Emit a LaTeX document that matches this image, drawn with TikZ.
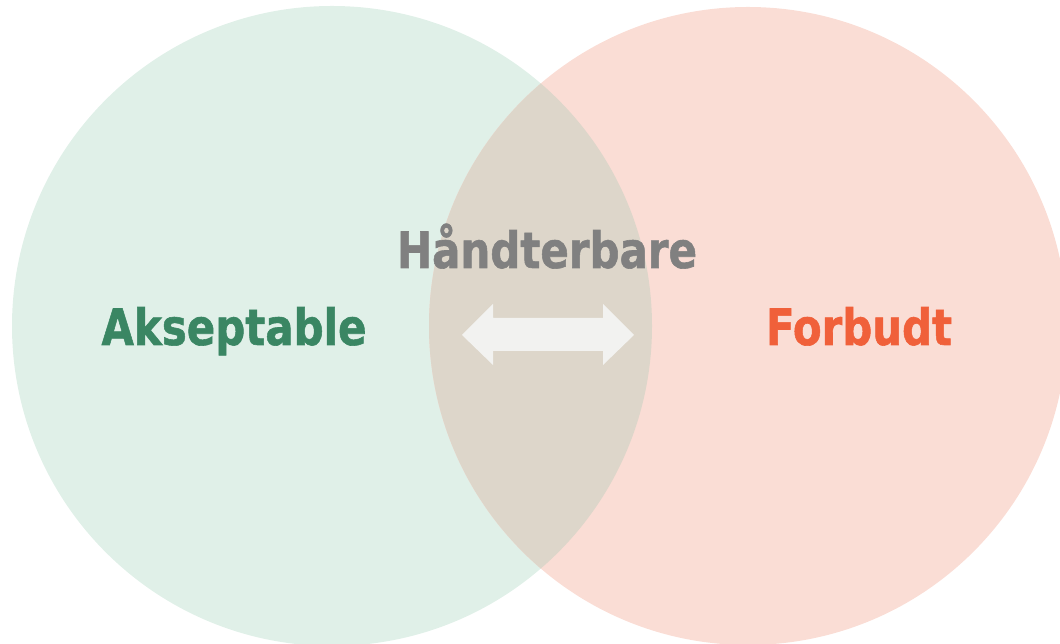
\documentclass[tikz,border=0pt]{standalone}
\usepackage{fontspec}
\usepackage{graphicx}
\setmainfont{DejaVu Sans}
\newfontfamily\heavyfont{DejaVu Sans Bold}[FakeBold=1.2]
\definecolor{leftc}{HTML}{E0F0E8}
\definecolor{rightc}{HTML}{FADDD5}
\definecolor{midc}{HTML}{DDD6CA}
\definecolor{greent}{HTML}{3A8663}
\definecolor{oranget}{HTML}{F0603A}
\definecolor{grayt}{HTML}{808080}
\definecolor{arrowc}{HTML}{F2F2F0}
\tikzset{
  lbl/.style={inner sep=0pt, anchor=base, font=\heavyfont\fontsize{50}{60}\selectfont}
}
\begin{document}
\begin{tikzpicture}[x=1pt,y=1pt]
\useasboundingbox (0,0) rectangle (1060,644);
\begin{scope}
\clip (0,0) rectangle (1060,644);
\fill[leftc] (332,318) circle (320);
\fill[rightc] (748,318) circle (319);
\begin{scope}
\clip (332,318) circle (320);
\fill[midc] (748,318) circle (319);
\end{scope}
\end{scope}
% double arrow
\fill[arrowc] (462,309) -- (493,340) -- (493,326) -- (603,326) -- (603,340) -- (634,309)
  -- (603,279) -- (603,293) -- (493,293) -- (493,279) -- cycle;
\node[lbl, text=greent] (acc) at (234,299) {\resizebox{265pt}{\height}{Akseptable}};
\node[lbl, text=oranget] (forb) at (859,299) {\resizebox{186pt}{\height}{Forbudt}};
\node[lbl, text=grayt] (hand) at (547,376) {\resizebox{300pt}{\height}{Håndterbare}};
\end{tikzpicture}
\end{document}
